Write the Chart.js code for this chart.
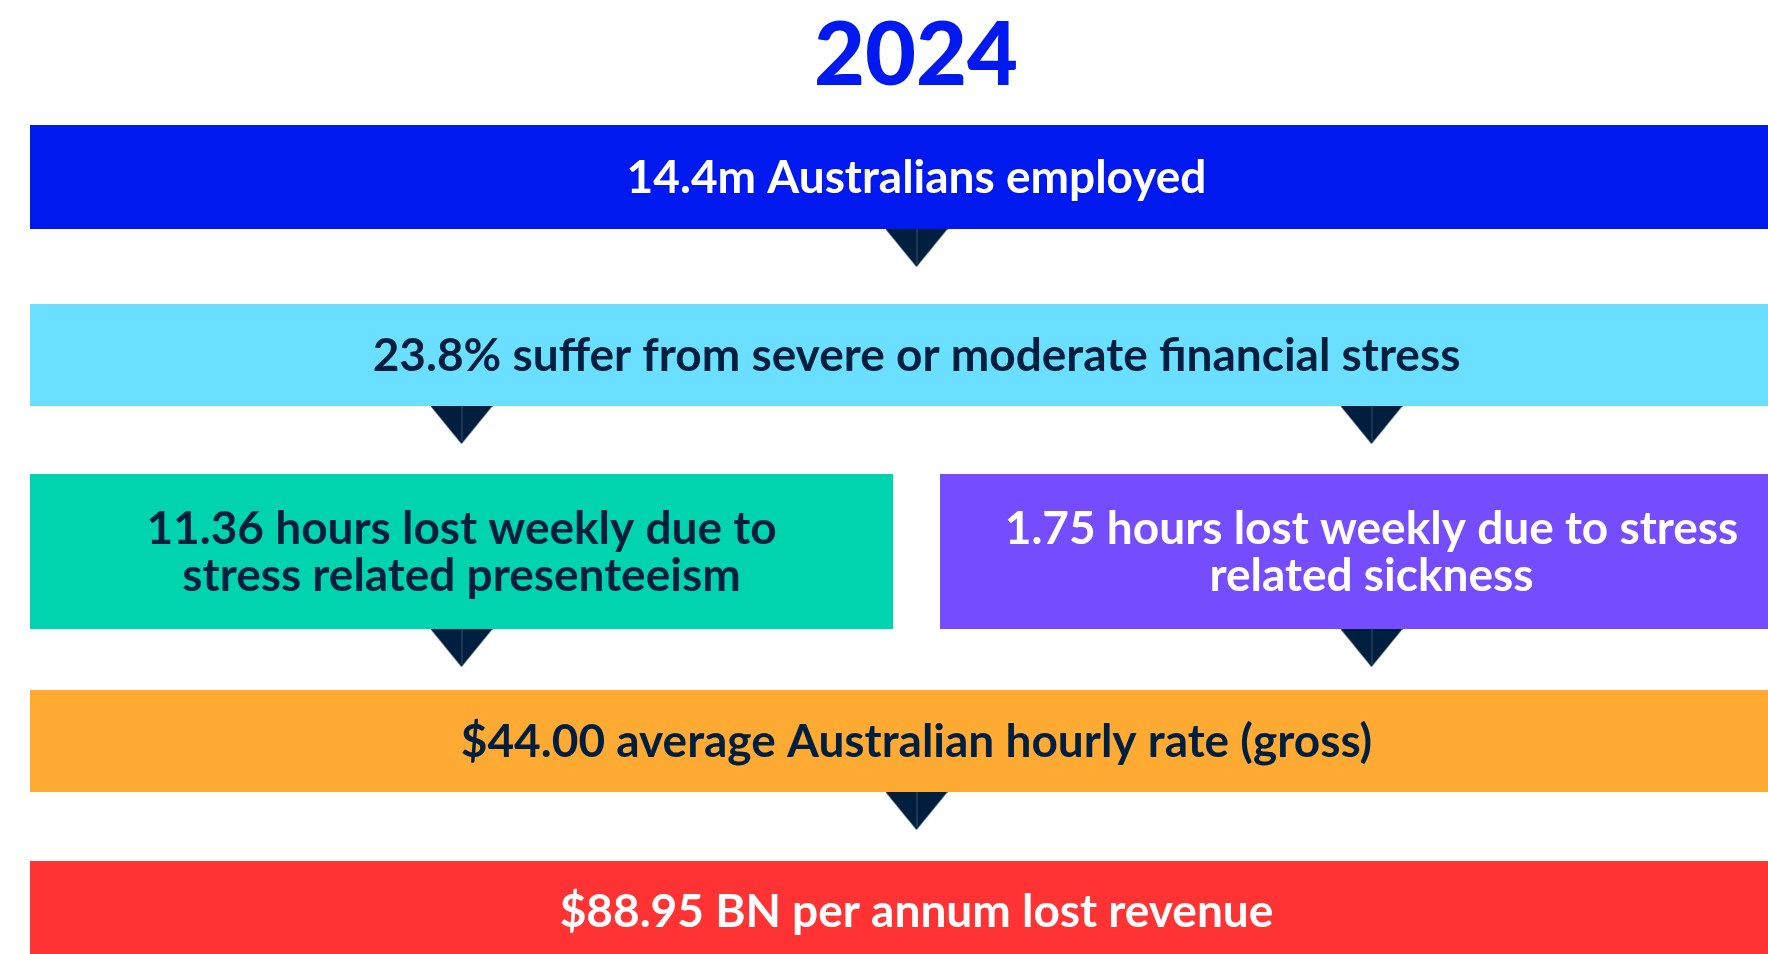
<!DOCTYPE html>
<html>
<head>
<meta charset="utf-8">
<title>2024 - cost of financial stress</title>
<script src="https://cdn.jsdelivr.net/npm/chart.js@4"></script>
<style>
  html, body { margin: 0; padding: 0; background: #fff; overflow: hidden; }
  #wrap { position: relative; width: 1832px; height: 1000px; }
</style>
</head>
<body>
<div id="wrap"><canvas id="flowChart"></canvas></div>
<script>
// data
const year = '2024'
const stages = ['employed', 'financialStress', 'presenteeism', 'sickness', 'hourlyRate', 'lostRevenue']
const stageText = [
  ['14.4m Australians employed'],
  ['23.8% suffer from severe or moderate financial stress'],
  ['11.36 hours lost weekly due to', 'stress related presenteeism'],
  ['1.75 hours lost weekly due to stress', 'related sickness'],
  ['$44.00 average Australian hourly rate (gross)'],
  ['$88.95 BN per annum lost revenue']
]
const links = [[0, 1], [1, 2], [1, 3], [2, 4], [3, 4], [4, 5]]

// layout + style (canvas px)
const navy = '#001F3F'
const cols = { full: [30, 1803], left: [30, 893], right: [940, 1803] }
const stageCol = ['full', 'full', 'left', 'right', 'full', 'full']
const stageRow = [[125, 229], [304, 406], [474, 629], [474, 629], [690, 792], [861, 960]]
const stageColor = ['#0019EF', '#6BDFFF', '#00D4AE', '#764CFF', '#FFAA33', '#FF3333']
const stageTextColor = ['#FFFFFF', navy, navy, '#FFFFFF', navy, '#FFFFFF']
const fontSize = 46
const lineGap = 47
const capHeight = fontSize * 0.717
const titleSize = 88
const titlePad = 13
const arrowW = 62, arrowH = 38

// arrow marker drawn once, used as point style
const arrow = document.createElement('canvas')
arrow.width = arrowW
arrow.height = arrowH
const actx = arrow.getContext('2d')
actx.fillStyle = navy
actx.beginPath()
actx.moveTo(0, 0)
actx.lineTo(arrowW, 0)
actx.lineTo(arrowW / 2, arrowH)
actx.closePath()
actx.fill()
actx.strokeStyle = 'rgba(255,255,255,0.22)'
actx.lineWidth = 1
actx.beginPath()
actx.moveTo(arrowW / 2 + 0.5, 0)
actx.lineTo(arrowW / 2 + 0.5, arrowH - 3)
actx.stroke()

const colCenter = c => (cols[c][0] + cols[c][1]) / 2
const colWidth = c => cols[c][1] - cols[c][0]

const barSets = stages.map((s, i) => ({
  label: s,
  indexAxis: 'y',
  data: [{ y: (stageRow[i][0] + stageRow[i][1]) / 2, x: cols[stageCol[i]] }],
  backgroundColor: stageColor[i],
  maxBarThickness: stageRow[i][1] - stageRow[i][0],
  barPercentage: 1,
  categoryPercentage: 1,
  grouped: false,
  borderWidth: 0,
  inflateAmount: 0
}))

const arrowPoints = links.map(([a, b]) => {
  const c = colWidth(stageCol[a]) <= colWidth(stageCol[b]) ? stageCol[a] : stageCol[b]
  return { x: colCenter(c), y: stageRow[a][1] + arrowH / 2 }
})

const stageLabels = {
  id: 'stageLabels',
  afterDatasetsDraw(chart) {
    const ctx = chart.ctx
    ctx.save()
    ctx.font = `700 ${fontSize}px Lato`
    ctx.textAlign = 'center'
    ctx.textBaseline = 'alphabetic'
    stages.forEach((s, i) => {
      const bar = chart.getDatasetMeta(i).data[0]
      const cx = (bar.x + bar.base) / 2
      const lines = stageText[i]
      ctx.fillStyle = stageTextColor[i]
      lines.forEach((line, j) => {
        ctx.fillText(line, cx, bar.y + (j - (lines.length - 1) / 2) * lineGap + capHeight / 2)
      })
    })
    ctx.restore()
  }
}

const titleBox = titleSize + titlePad

new Chart(document.getElementById('flowChart'), {
  type: 'bar',
  data: {
    datasets: [
      ...barSets,
      {
        type: 'scatter',
        label: 'flow',
        data: arrowPoints,
        pointStyle: arrow,
        pointRadius: arrowW / 2,
        clip: false
      }
    ]
  },
  options: {
    responsive: true,
    maintainAspectRatio: false,
    animation: false,
    events: [],
    layout: { padding: 0, autoPadding: false },
    scales: {
      x: { type: 'linear', display: false, offset: false, min: 0, max: 1832, ticks: { stepSize: 5000 } },
      y: { type: 'linear', display: false, offset: false, reverse: true, min: titleBox, max: 1000, ticks: { stepSize: 5000 } }
    },
    plugins: {
      legend: { display: false },
      tooltip: { enabled: false },
      title: {
        display: true,
        text: year,
        color: '#0019EF',
        font: { family: 'Lato', weight: 900, size: titleSize, lineHeight: 1 },
        padding: { top: titlePad, bottom: 0 }
      }
    }
  },
  plugins: [stageLabels]
})
</script>
</body>
</html>
